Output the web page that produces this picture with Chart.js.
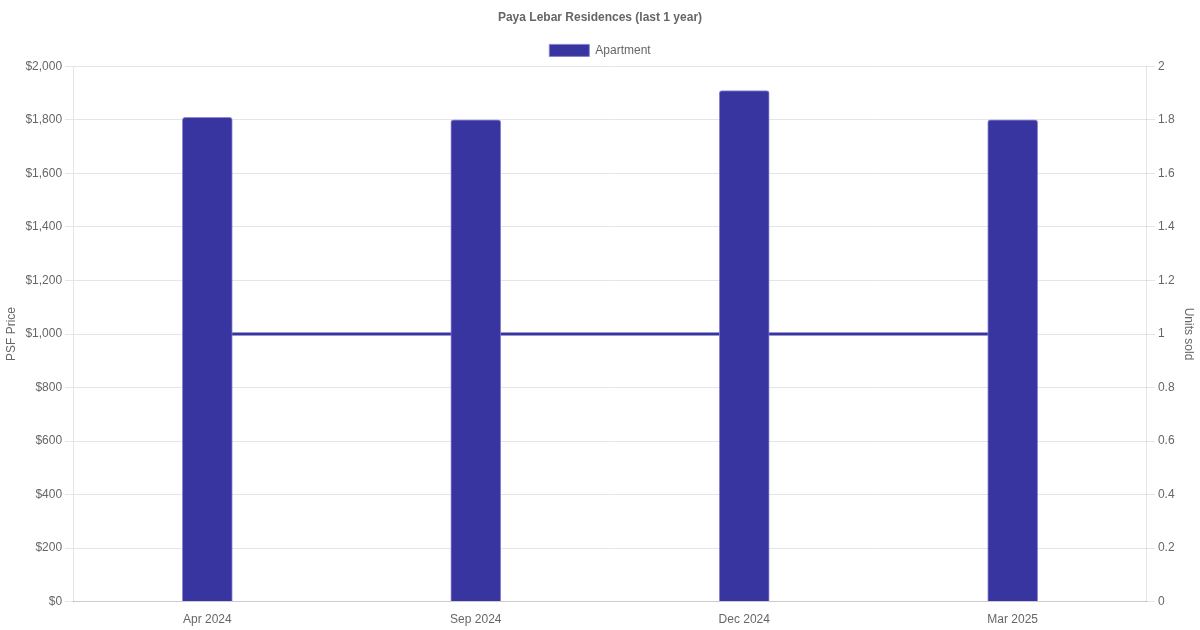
<!DOCTYPE html>
<html>
<head>
<meta charset="utf-8">
<script src="https://cdn.jsdelivr.net/npm/chart.js@4"></script>
<style>
  html, body { margin: 0; padding: 0; background: #fff; }
  #wrap { width: 1200px; height: 630px; }
</style>
</head>
<body>
<div id="wrap"><canvas id="grafico"></canvas></div>
<script>
const meses = ['Apr 2024', 'Sep 2024', 'Dec 2024', 'Mar 2025'];
const psf = [1810, 1800, 1910, 1800];
const unidades = [1, 1, 1, 1];

const cor = '#3834a0';
Chart.defaults.font.family = '"Liberation Sans", Arial, sans-serif';
Chart.defaults.font.size = 12;
Chart.defaults.color = '#666';

new Chart(document.getElementById('grafico').getContext('2d'), {
  type: 'bar',
  data: {
    labels: meses,
    datasets: [
      {
        type: 'line',
        label: 'Units',
        data: unidades,
        yAxisID: 'y1',
        borderColor: cor,
        backgroundColor: cor,
        borderWidth: 3,
        pointRadius: 0,
        tension: 0,
        order: 2
      },
      {
        label: 'Apartment',
        data: psf,
        yAxisID: 'y',
        backgroundColor: cor,
        borderColor: 'rgba(130,126,210,0.9)',
        borderWidth: 1,
        borderRadius: 3,
        borderSkipped: 'bottom',
        barThickness: 50,
        order: 1
      }
    ]
  },
  options: {
    responsive: true,
    maintainAspectRatio: false,
    animation: false,
    plugins: {
      title: {
        display: true,
        text: 'Paya Lebar Residences (last 1 year)',
        font: { weight: 'bold', size: 12 },
        padding: { top: 10, bottom: 10 }
      },
      legend: {
        labels: {
          filter: item => item.text === 'Apartment',
          boxWidth: 40
        }
      },
      tooltip: { enabled: false }
    },
    scales: {
      x: {
        grid: { display: false },
        border: { color: '#ccc' }
      },
      y: {
        position: 'left',
        min: 0,
        max: 2000,
        ticks: { stepSize: 200, callback: v => '$' + v.toLocaleString('en-US') },
        title: { display: true, text: 'PSF Price' },
        grid: { color: '#e5e5e5' }
      },
      y1: {
        position: 'right',
        min: 0,
        max: 2,
        ticks: { stepSize: 0.2, callback: v => String(Math.round(v * 10) / 10) },
        title: { display: true, text: 'Units sold' },
        grid: { drawOnChartArea: false, color: '#e5e5e5' }
      }
    }
  }
});
</script>
</body>
</html>
